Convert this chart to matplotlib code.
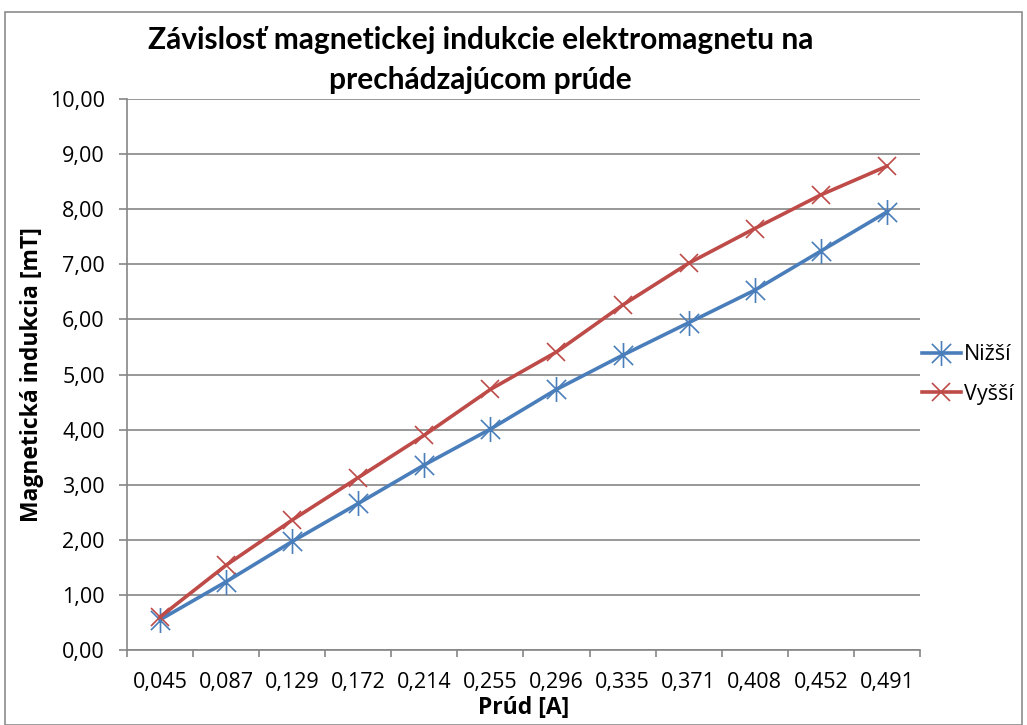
import numpy as np
import matplotlib
matplotlib.use("Agg")
import matplotlib.pyplot as plt
from matplotlib.path import Path
from matplotlib.patches import Rectangle

# measured values
prud = ["0,045", "0,087", "0,129", "0,172", "0,214", "0,255",
        "0,296", "0,335", "0,371", "0,408", "0,452", "0,491"]
nizsi = [0.55, 1.24, 1.97, 2.66, 3.36, 4.01, 4.73, 5.35, 5.94, 6.53, 7.24, 7.95]
vyssi = [0.60, 1.54, 2.36, 3.13, 3.90, 4.73, 5.41, 6.26, 7.02, 7.65, 8.26, 8.78]
y_ticks = np.arange(0, 10.01, 1.0)

plt.rcParams['font.family'] = ['Open Sans', 'DejaVu Sans']

# asterisk marker: x plus a vertical stroke
star = Path([(-1, -1), (1, 1), (-1, 1), (1, -1), (0, -1.3), (0, 1.3)],
            [Path.MOVETO, Path.LINETO, Path.MOVETO, Path.LINETO,
             Path.MOVETO, Path.LINETO])

fig = plt.figure(figsize=(10.27, 7.25), dpi=100)
fig.patches.append(Rectangle((0.005, 0.0), 0.99, 0.983, transform=fig.transFigure,
                             fill=False, edgecolor='#8c8c8c', linewidth=1.2))
ax = fig.add_axes([0.1237, 0.1034, 0.772, 0.76])

x = np.arange(len(prud))
ax.plot(x, nizsi, color='#4A7EBB', lw=2.6, marker=star, ms=18, mew=1.2,
        label='Nižší', zorder=3)
ax.plot(x, vyssi, color='#BE4B48', lw=2.6, marker='x', ms=13, mew=1.2,
        label='Vyšší', zorder=3)

ax.set_xlim(-0.5, len(prud) - 0.5)
ax.set_ylim(0, 10)
ax.set_yticks(y_ticks)
ax.set_yticklabels([f"{v:.2f}".replace('.', ',') for v in y_ticks], fontsize=15.5)
ax.set_xticks(x)
ax.set_xticklabels(prud, fontsize=15.5)
ax.set_xticks(np.arange(-0.5, len(prud), 1.0), minor=True)
ax.tick_params(axis='x', which='major', length=0, pad=16)
ax.tick_params(axis='x', which='minor', length=5, color='#868686', width=1.2)
ax.tick_params(axis='y', length=6, color='#868686', width=1.2, pad=10)

ax.grid(axis='y', color='#868686', lw=1.2)
ax.set_axisbelow(True)
for s in ['top', 'right']:
    ax.spines[s].set_visible(False)
for s in ['left', 'bottom']:
    ax.spines[s].set_color('#868686')
    ax.spines[s].set_linewidth(1.2)

ax.set_ylabel('Magnetická indukcia [mT]', fontsize=16.5, fontweight='bold', labelpad=4)
ax.set_xlabel('Prúd [A]', fontsize=16.5, fontweight='bold', labelpad=2)
fig.text(0.468, 0.917, 'Závislosť magnetickej indukcie elektromagnetu na\nprechádzajúcom prúde',
         ha='center', va='center', fontsize=21.5, fontweight='bold', linespacing=1.55,
         family=['Lato', 'DejaVu Sans'])

ax.legend(loc='center left', bbox_to_anchor=(1.0025, 0.5), frameon=False,
          borderpad=0, borderaxespad=0, fontsize=15.5, handlelength=1.8,
          handletextpad=0.15, labelspacing=0.85)

fig.savefig('out.png', dpi=100)
